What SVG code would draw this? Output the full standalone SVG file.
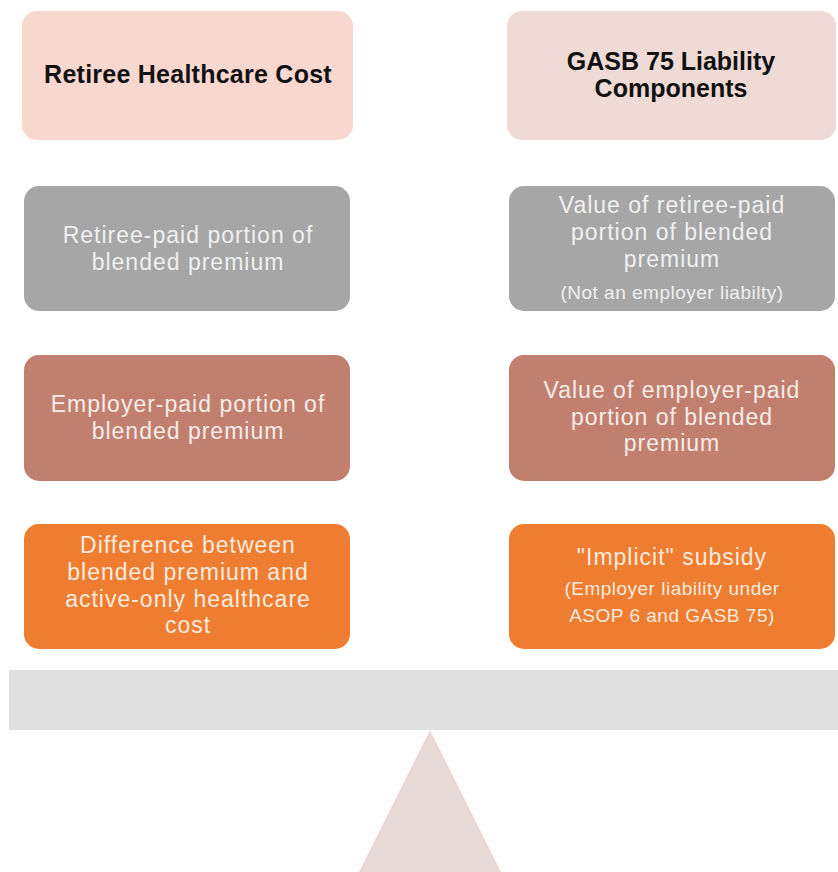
<svg xmlns="http://www.w3.org/2000/svg" width="838" height="872" viewBox="0 0 838 872">
<style>
text{font-family:"Liberation Sans",Arial,sans-serif;text-anchor:middle}
.h{font-weight:bold;font-size:25px;fill:#111}
.t{font-size:23px;letter-spacing:1px}
.s{font-size:19px;letter-spacing:0.5px}
.g{fill:#A6A6A6}.gt{fill:#F0F0F0}
.b{fill:#C1806F}.bt{fill:#F6ECE8}
.o{fill:#EE7D31}.ot{fill:#FCEBDD}
</style>
<rect width="838" height="872" fill="#fff"/>
<g id="left-header"><rect x="22" y="11" width="331" height="129" rx="15" fill="#F8D8CE"/><text class="h" x="188" y="83" style="letter-spacing:0.25px">Retiree Healthcare Cost</text></g>
<g id="right-header"><rect x="507" y="11" width="329" height="129" rx="15" fill="#EFDAD5"/><text class="h" x="671" y="70">GASB 75 Liability</text><text class="h" x="671" y="97">Components</text></g>
<g id="left-retiree"><rect class="g" x="24" y="186" width="326" height="125" rx="15"/><text class="t gt" x="188" y="243">Retiree-paid portion of</text><text class="t gt" x="188" y="270">blended premium</text></g>
<g id="right-retiree"><rect class="g" x="509" y="186" width="326" height="125" rx="15"/><text class="t gt" x="672" y="213">Value of retiree-paid</text><text class="t gt" x="672" y="240">portion of blended</text><text class="t gt" x="672" y="267">premium</text><text class="s gt" x="672" y="299">(Not an employer liabilty)</text></g>
<g id="left-employer"><rect class="b" x="24" y="355" width="326" height="126" rx="15"/><text class="t bt" x="188" y="412">Employer-paid portion of</text><text class="t bt" x="188" y="439">blended premium</text></g>
<g id="right-employer"><rect class="b" x="509" y="355" width="326" height="126" rx="15"/><text class="t bt" x="672" y="398">Value of employer-paid</text><text class="t bt" x="672" y="425">portion of blended</text><text class="t bt" x="672" y="451">premium</text></g>
<g id="left-difference"><rect class="o" x="24" y="524" width="326" height="125" rx="15"/><text class="t ot" x="188" y="553">Difference between</text><text class="t ot" x="188" y="580">blended premium and</text><text class="t ot" x="188" y="607">active-only healthcare</text><text class="t ot" x="188" y="633">cost</text></g>
<g id="right-implicit"><rect class="o" x="509" y="524" width="326" height="125" rx="15"/><text class="t ot" x="672" y="565">"Implicit" subsidy</text><text class="s ot" x="672" y="595">(Employer liability under</text><text class="s ot" x="672" y="622">ASOP 6 and GASB 75)</text></g>
<g id="beam"><rect x="9" y="670" width="829" height="60" fill="#E0E0E0"/></g>
<g id="fulcrum"><polygon points="430,730 359,872 501,872" fill="#E7DAD6"/></g>
<g id="connectors"/>
</svg>
